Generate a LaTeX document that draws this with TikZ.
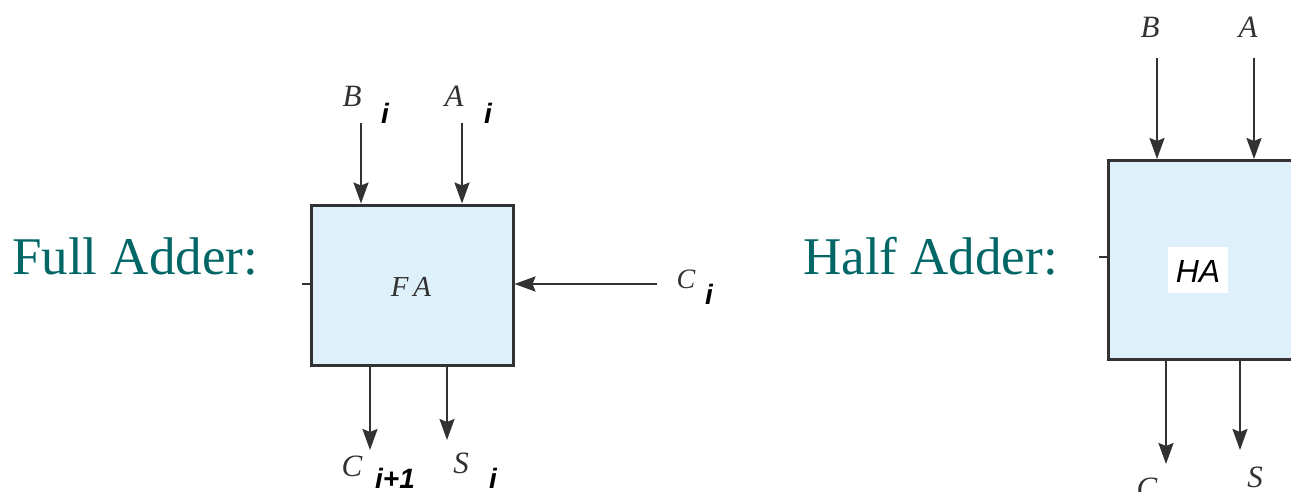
\documentclass[tikz,border=0pt]{standalone}
\usepackage{fontspec}
\setmainfont{Liberation Serif}
\newfontfamily\sansf{Liberation Sans}
\usetikzlibrary{arrows.meta}
\definecolor{teal1}{RGB}{0,102,102}
\definecolor{boxfill}{RGB}{222,241,251}
\definecolor{linecol}{RGB}{50,50,50}
\tikzset{
  x=1pt, y=-1pt,
  adder/.style={draw=linecol, line width=3pt, fill=boxfill, rectangle, inner sep=0pt},
  arr/.style={draw=linecol, line width=2.2pt, -{Stealth[length=21pt,width=15pt,inset=3pt]}},
  tick/.style={draw=linecol, line width=2pt},
  title/.style={text=teal1, font=\fontsize{53}{60}\selectfont, inner sep=0pt},
  sig/.style={font=\fontsize{31}{34}\selectfont\itshape, text=linecol, inner sep=0pt},
  sub/.style={font=\sansf\fontsize{28}{30}\selectfont\bfseries\itshape, inner sep=0pt},
}
\begin{document}
\begin{tikzpicture}
\useasboundingbox (0,0) rectangle (1291,492);
\clip (0,0) rectangle (1291,492);
\fill[white] (0,0) rectangle (1291,492);

% titles
\node[title, anchor=base west] (tfa) at (12,274) {Full Adder:};
\node[title, anchor=base west] (tha) at (803,274) {Half Adder:};

% Full adder
\node[adder, minimum width=202pt, minimum height=160pt] (fa) at (412,285) {};
\node[sig, font=\fontsize{29}{32}\selectfont\itshape] (falab) at (411,287) {F\,A};
\coordinate (bi) at (361,123);
\coordinate (ai) at (462,123);
\coordinate (ci) at (657,284);
\coordinate (co) at (370,450);
\coordinate (so) at (447,440);
\coordinate (ftick) at (302,284);
\draw[arr] (bi) -- (bi |- fa.north);
\draw[arr] (ai) -- (ai |- fa.north);
\draw[arr] (ci) -- (fa.east |- ci);
\draw[arr] (co |- fa.south) -- (co);
\draw[arr] (so |- fa.south) -- (so);
\draw[tick] (ftick) -- (fa.west |- ftick);

\node[sig] (lb) at (352,96) {B};
\node[sub] (lbi) at (385,113) {i};
\node[sig] (la) at (454,96) {A};
\node[sub] (lai) at (488,113) {i};
\node[sig, font=\fontsize{28}{30}\selectfont\itshape] (lc) at (686,279) {C};
\node[sub] (lci) at (709,294) {i};
\node[sig] (lco) at (352,466) {C};
\node[sub] (lcoi) at (395,478) {i+1};
\node[sig] (ls) at (461,463) {S};
\node[sub] (lsi) at (493,478) {i};

% Half adder
\node[adder, minimum width=210pt, minimum height=199pt, anchor=north west] (ha) at (1107,159) {};
\node[fill=white, minimum width=60pt, minimum height=46pt, inner sep=0pt] (halabbg) at (1198,270) {};
\node[font=\sansf\fontsize{32}{36}\selectfont\itshape, inner sep=0pt] (halab) at (1198,271) {HA};
\coordinate (hb) at (1157,58);
\coordinate (hainp) at (1254,58);
\coordinate (hco) at (1166,464);
\coordinate (hso) at (1240,450);
\coordinate (htick) at (1099,257);
\draw[arr] (hb) -- (hb |- ha.north);
\draw[arr] (hainp) -- (hainp |- ha.north);
\draw[arr] (hco |- ha.south) -- (hco);
\draw[arr] (hso |- ha.south) -- (hso);
\draw[tick] (htick) -- (ha.west |- htick);

\node[sig] (hlb) at (1150,27) {B};
\node[sig] (hla) at (1248,27) {A};
\node[sig] (hlc) at (1147,488) {C};
\node[sig] (hls) at (1255,477) {S};
\end{tikzpicture}
\end{document}
